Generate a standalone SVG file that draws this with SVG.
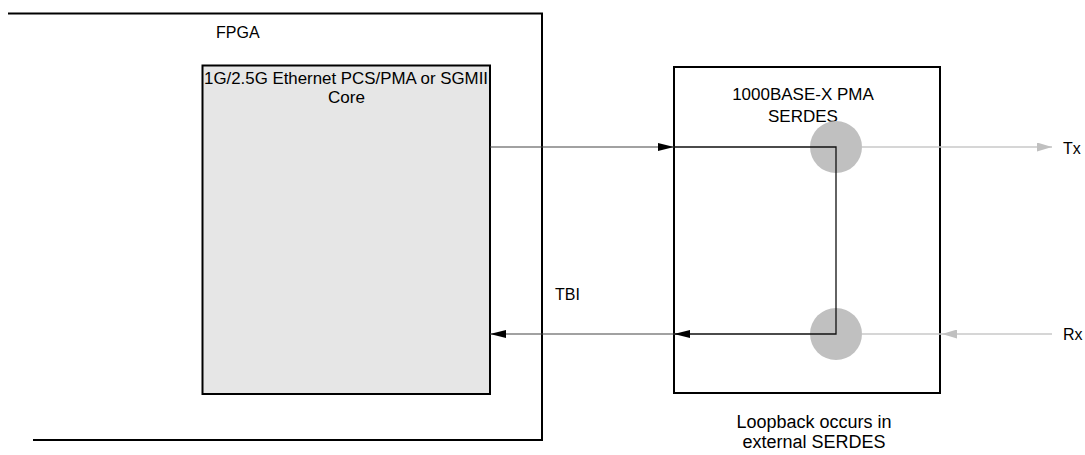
<svg xmlns="http://www.w3.org/2000/svg" width="1085" height="455" viewBox="0 0 1085 455">
<style>
text{font-family:"Liberation Sans",Arial,sans-serif;fill:#000}
.frame{fill:none;stroke:#000;stroke-width:2}
.box{stroke:#000;stroke-width:2}
.conn{fill:none;stroke:#444;stroke-width:1.2}
.loop{fill:none;stroke:#111;stroke-width:1.3}
.gray{fill:none;stroke:#c8c8c8;stroke-width:1.5}
.circ{fill:#c0c0c0;stroke:none}
</style>
<defs>
<marker id="ah" markerUnits="userSpaceOnUse" markerWidth="16" markerHeight="8" refX="16" refY="4" orient="auto">
<path d="M0,0 L16,4 L0,8 Z" fill="#000"/>
</marker>
<marker id="ahg" markerUnits="userSpaceOnUse" markerWidth="15" markerHeight="9" refX="15" refY="4.5" orient="auto">
<path d="M0,0 L15,4.5 L0,9 Z" fill="#c0c0c0"/>
</marker>
</defs>
<g id="fpga">
<path class="frame" d="M8,13.5 H542 V440 H33"/>
<text x="216" y="38" font-size="16">FPGA</text>
</g>
<g id="core">
<rect class="box" x="202.5" y="65.5" width="287.5" height="328.5" fill="#e6e6e6"/>
<text x="346" y="84" font-size="17" text-anchor="middle" textLength="284" lengthAdjust="spacingAndGlyphs">1G/2.5G Ethernet PCS/PMA or SGMII</text>
<text x="346.5" y="103" font-size="17" text-anchor="middle" textLength="37" lengthAdjust="spacingAndGlyphs">Core</text>
</g>
<g id="serdes">
<rect class="box" x="674" y="67" width="266" height="326" fill="#fff"/>
<text x="803" y="100" font-size="17" text-anchor="middle">1000BASE-X PMA</text>
<text x="803" y="121.5" font-size="17" text-anchor="middle">SERDES</text>
<circle class="circ" cx="836" cy="147" r="26"/>
<circle class="circ" cx="836" cy="334" r="26"/>
</g>
<g id="labels">
<text x="555" y="300" font-size="16">TBI</text>
<text x="1063" y="154" font-size="16">Tx</text>
<text x="1063" y="340" font-size="16">Rx</text>
<text x="814" y="428" font-size="18" text-anchor="middle">Loopback occurs in</text>
<text x="814" y="448" font-size="18" text-anchor="middle">external SERDES</text>
</g>
<g id="connectors">
<line class="conn" x1="490" y1="147" x2="674" y2="147" marker-end="url(#ah)"/>
<polyline class="loop" points="674,147 836,147 836,334 674,334"/>
<line class="conn" x1="690" y1="334" x2="674" y2="334" marker-end="url(#ah)"/>
<line class="conn" x1="674" y1="334" x2="490" y2="334" marker-end="url(#ah)"/>
<line class="gray" x1="862" y1="147" x2="1052" y2="147" marker-end="url(#ahg)"/>
<line class="gray" x1="1052" y1="334" x2="942" y2="334" marker-end="url(#ahg)"/>
<line class="gray" x1="942" y1="334" x2="862" y2="334"/>
</g>
</svg>
